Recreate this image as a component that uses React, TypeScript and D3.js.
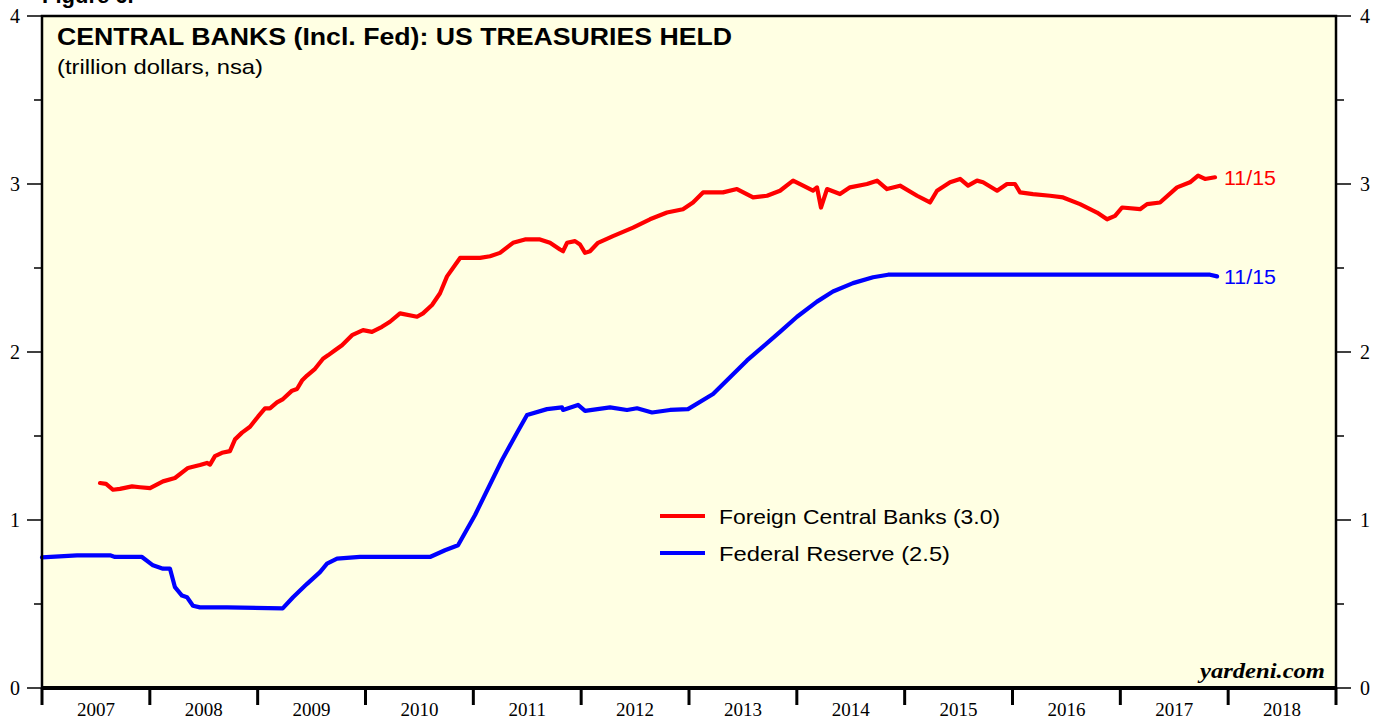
import React from "react";
import * as d3 from "d3";

// ---- Data (time in decimal years, values in trillion dollars) ----
const fcbTime = [
  2007.538, 2007.594, 2007.658, 2007.723, 2007.835, 2007.909, 2008.002, 2008.122, 2008.233, 2008.354,
  2008.465, 2008.53, 2008.558, 2008.604, 2008.669, 2008.743, 2008.79, 2008.855, 2008.929, 2009.003,
  2009.068, 2009.114, 2009.179, 2009.235, 2009.319, 2009.365, 2009.411, 2009.458, 2009.532, 2009.606,
  2009.652, 2009.717, 2009.782, 2009.875, 2009.977, 2010.06, 2010.153, 2010.227, 2010.32, 2010.478,
  2010.533, 2010.617, 2010.691, 2010.756, 2010.877, 2010.969, 2011.062, 2011.155, 2011.247, 2011.368,
  2011.479, 2011.618, 2011.711, 2011.804, 2011.832, 2011.869, 2011.943, 2011.989, 2012.036, 2012.082,
  2012.156, 2012.295, 2012.481, 2012.638, 2012.796, 2012.944, 2013.037, 2013.13, 2013.222, 2013.315,
  2013.445, 2013.594, 2013.724, 2013.844, 2013.965, 2014.058, 2014.15, 2014.187, 2014.224, 2014.28,
  2014.4, 2014.493, 2014.651, 2014.744, 2014.836, 2014.957, 2015.115, 2015.235, 2015.3, 2015.421,
  2015.514, 2015.588, 2015.671, 2015.727, 2015.857, 2015.949, 2016.023, 2016.07, 2016.19, 2016.348,
  2016.469, 2016.626, 2016.784, 2016.877, 2016.951, 2017.016, 2017.183, 2017.248, 2017.368, 2017.526,
  2017.646, 2017.721, 2017.785, 2017.878,
];
const fcbValue = [
  1.22, 1.215, 1.18, 1.185, 1.2, 1.195, 1.19, 1.23, 1.25, 1.31,
  1.327, 1.34, 1.33, 1.38, 1.4, 1.41, 1.48, 1.52, 1.555, 1.615,
  1.665, 1.665, 1.7, 1.72, 1.77, 1.78, 1.83, 1.86, 1.9, 1.96,
  1.98, 2.01, 2.04, 2.1, 2.13, 2.12, 2.15, 2.18, 2.23, 2.21,
  2.23, 2.28, 2.35, 2.45, 2.56, 2.56, 2.56, 2.57, 2.59, 2.65,
  2.67, 2.67, 2.65, 2.61, 2.6, 2.65, 2.66, 2.64, 2.59, 2.6,
  2.65, 2.69, 2.74, 2.79, 2.83, 2.85, 2.89, 2.95, 2.95, 2.95,
  2.97, 2.92, 2.93, 2.96, 3.02, 2.99, 2.96, 2.98, 2.86, 2.97,
  2.94, 2.98, 3.0, 3.02, 2.97, 2.99, 2.93, 2.89, 2.96, 3.01,
  3.03, 2.99, 3.02, 3.01, 2.96, 3.0, 3.0, 2.95, 2.94, 2.93,
  2.92, 2.88, 2.83, 2.79, 2.81, 2.86, 2.85, 2.88, 2.89, 2.98,
  3.01, 3.05, 3.03, 3.04,
];

const fedTime = [
  2007.0, 2007.325, 2007.631, 2007.677, 2007.927, 2008.029, 2008.122, 2008.187, 2008.233, 2008.298,
  2008.345, 2008.4, 2008.465, 2008.716, 2009.232, 2009.328, 2009.458, 2009.578, 2009.643, 2009.736,
  2009.949, 2010.598, 2010.737, 2010.858, 2011.016, 2011.266, 2011.405, 2011.498, 2011.683, 2011.822,
  2011.832, 2011.971, 2012.036, 2012.268, 2012.425, 2012.518, 2012.657, 2012.824, 2012.991, 2013.223,
  2013.538, 2013.844, 2014.002, 2014.187, 2014.335, 2014.521, 2014.707, 2014.846, 2015.884, 2017.832,
  2017.897,
];
const fedValue = [
  0.778, 0.79, 0.79, 0.78, 0.78, 0.73, 0.71, 0.71, 0.6, 0.55,
  0.54, 0.49, 0.48, 0.48, 0.474, 0.54, 0.62, 0.69, 0.74, 0.77,
  0.78, 0.78, 0.82, 0.85, 1.03, 1.357, 1.52, 1.625, 1.66, 1.67,
  1.655, 1.685, 1.65, 1.67, 1.655, 1.665, 1.64, 1.655, 1.66, 1.75,
  1.95, 2.12, 2.21, 2.3, 2.36, 2.41, 2.445, 2.46, 2.46, 2.46,
  2.45,
];

const years = [2007, 2008, 2009, 2010, 2011, 2012, 2013, 2014, 2015, 2016, 2017, 2018];
const yMajorTicks = [0, 1, 2, 3, 4];
const yMinorTicks = [0.5, 1.5, 2.5, 3.5];

const titleText = "CENTRAL BANKS (Incl. Fed): US TREASURIES HELD";
const subtitleText = "(trillion dollars, nsa)";
const legendLabels = ["Foreign Central Banks (3.0)", "Federal Reserve (2.5)"];
const endLabel = "11/15";

const W = 1382;
const H = 719;
const L = 42, R = 1336, T = 16, B = 688;
const RED = "#ff0000";
const BLUE = "#0000ff";
const serif = "'Liberation Serif', 'Times New Roman', serif";
const sans = "'Liberation Sans', Arial, Helvetica, sans-serif";

export default function App() {
  const x = d3.scaleLinear().domain([2007, 2019]).range([L, R]);
  const y = d3.scaleLinear().domain([0, 4]).range([B, T]);
  const line = d3
    .line<[number, number]>()
    .x((d) => x(d[0]))
    .y((d) => y(d[1]))
    .curve(d3.curveLinear);
  const fcb = fcbTime.map((t, i) => [t, fcbValue[i]] as [number, number]);
  const fed = fedTime.map((t, i) => [t, fedValue[i]] as [number, number]);
  const fcbLast = fcb[fcb.length - 1];
  const fedLast = fed[fed.length - 1];

  return (
    <svg
      width={W}
      height={H}
      style={{ position: "absolute", left: 0, top: 0, display: "block", background: "#fff" }}
    >
      <text x={42} y={3} fontFamily={sans} fontWeight="bold" fontSize={22} fill="#000">
        Figure 6.
      </text>
      <rect x={L} y={T} width={R - L} height={B - T} fill="#ffffe3" />

      {/* lines */}
      <path d={line(fed) || ""} fill="none" stroke={BLUE} strokeWidth={4.2} strokeLinejoin="round" strokeLinecap="round" />
      <path d={line(fcb) || ""} fill="none" stroke={RED} strokeWidth={4.2} strokeLinejoin="round" strokeLinecap="round" />

      {/* end labels */}
      <text x={x(fcbLast[0]) + 9} y={y(fcbLast[1]) + 8} fontFamily={sans} fontSize={20} textLength={52} lengthAdjust="spacingAndGlyphs" fill={RED}>
        {endLabel}
      </text>
      <text x={x(fedLast[0]) + 7} y={y(fedLast[1]) + 8} fontFamily={sans} fontSize={20} textLength={52} lengthAdjust="spacingAndGlyphs" fill={BLUE}>
        {endLabel}
      </text>

      {/* frame */}
      <rect x={L} y={T} width={R - L} height={B - T} fill="none" stroke="#000" strokeWidth={2.5} />
      <line x1={L - 1} x2={R + 1} y1={B} y2={B} stroke="#000" strokeWidth={4} />

      {/* y ticks */}
      {yMajorTicks.map((v) => (
        <g key={"M" + v}>
          <line x1={L - 15} x2={L} y1={y(v)} y2={y(v)} stroke="#000" strokeWidth={1.5} />
          <line x1={R} x2={R + 15} y1={y(v)} y2={y(v)} stroke="#000" strokeWidth={1.5} />
          <text x={15} y={y(v) + 7} textAnchor="middle" fontFamily={serif} fontSize={20} fill="#000">
            {v}
          </text>
          <text x={1365} y={y(v) + 7} textAnchor="middle" fontFamily={serif} fontSize={20} fill="#000">
            {v}
          </text>
        </g>
      ))}
      {yMinorTicks.map((v) => (
        <g key={"m" + v}>
          <line x1={L - 8} x2={L} y1={y(v)} y2={y(v)} stroke="#000" strokeWidth={1.5} />
          <line x1={R} x2={R + 8} y1={y(v)} y2={y(v)} stroke="#000" strokeWidth={1.5} />
        </g>
      ))}

      {/* x ticks and labels */}
      {[...years, 2019].map((yr) => (
        <line key={"t" + yr} x1={x(yr)} x2={x(yr)} y1={B} y2={B + 17} stroke="#000" strokeWidth={3} />
      ))}
      {years.map((yr) => (
        <text key={"l" + yr} x={x(yr + 0.5)} y={716} textAnchor="middle" fontFamily={serif} fontSize={19} fill="#000">
          {yr}
        </text>
      ))}

      {/* title */}
      <text x={57} y={45} fontFamily={sans} fontWeight="bold" fontSize={24} textLength={675} lengthAdjust="spacingAndGlyphs" fill="#000">
        {titleText}
      </text>
      <text x={57} y={74} fontFamily={sans} fontSize={21} textLength={206} lengthAdjust="spacingAndGlyphs" fill="#000">
        {subtitleText}
      </text>

      {/* legend */}
      <line x1={660} x2={705} y1={516} y2={516} stroke={RED} strokeWidth={4} />
      <text x={719} y={524} fontFamily={sans} fontSize={21} textLength={281} lengthAdjust="spacingAndGlyphs" fill="#000">
        {legendLabels[0]}
      </text>
      <line x1={660} x2={705} y1={553} y2={553} stroke={BLUE} strokeWidth={4} />
      <text x={719} y={561} fontFamily={sans} fontSize={21} textLength={231} lengthAdjust="spacingAndGlyphs" fill="#000">
        {legendLabels[1]}
      </text>

      {/* source */}
      <text x={1200} y={678} fontFamily={serif} fontStyle="italic" fontWeight="bold" fontSize={22} textLength={125} lengthAdjust="spacingAndGlyphs" fill="#000">
        yardeni.com
      </text>
    </svg>
  );
}
